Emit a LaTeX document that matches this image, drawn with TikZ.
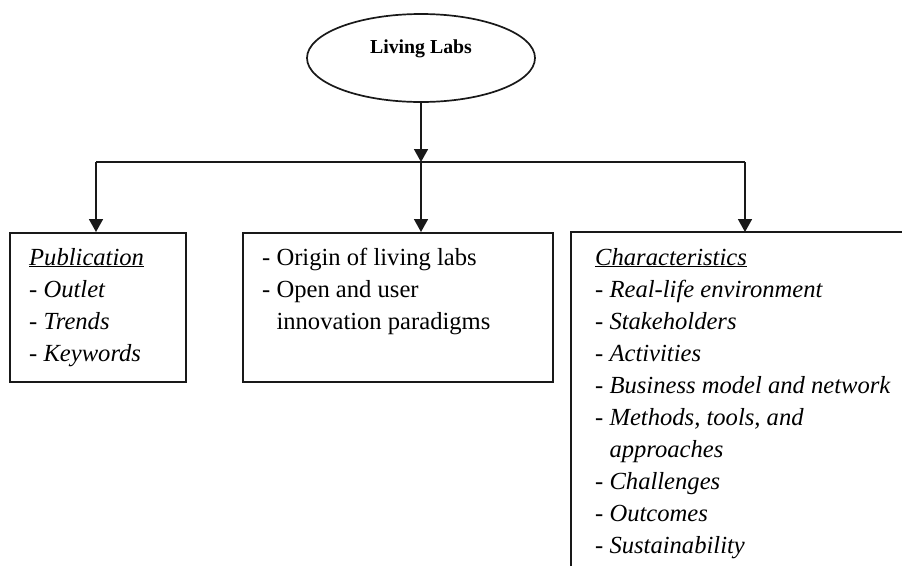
\documentclass[tikz,border=0pt]{standalone}
\usepackage{fontspec}
\setmainfont{Liberation Serif}
\usetikzlibrary{shapes.geometric,arrows.meta}
\tikzset{
  ln/.style={line width=1.7pt, black!90},
  arr/.style={ln, -{Triangle[width=14pt,length=13pt]}},
  oval/.style={ellipse, draw, ln, minimum width=228pt, minimum height=88pt, inner sep=0pt},
  box/.style={draw, ln, rectangle, anchor=north west, inner sep=0pt},
  txt/.style={anchor=base west, inner sep=0pt, font=\fontsize{24.6}{30}\selectfont},
  ttl/.style={inner sep=0pt, font=\fontsize{19.8}{24}\selectfont\bfseries}
}
\begin{document}
\begin{tikzpicture}[x=1pt,y=-1pt]
\useasboundingbox (0,0) rectangle (902,566);
% title
\node[oval] (ll) at (421,58) {};
\node[ttl] (llt) at (421,49) {Living Labs};
% boxes
\node[box, minimum width=176pt, minimum height=149pt] (pub) at (9,232) {};
\node[box, minimum width=310pt, minimum height=149pt] (mid) at (242,232) {};
\coordinate (chr) at (571,232);
\coordinate (chb) at (571,566);
\coordinate (chrr) at (902,232);
\draw[ln] (chb) -- (chr) -- (chrr);
% connectors
\coordinate (j) at (421,162);
\coordinate (jl) at (96,162);
\coordinate (jr) at (745,162);
\draw[arr] (ll.south) -- (j);
\draw[ln] (jl) -- (jr);
\draw[arr] (jl) -- (jl |- pub.north);
\draw[arr] (j) -- (j |- mid.north);
\draw[arr] (jr) -- (jr |- chr);
% left box text
\node[txt] (p0) at (29,265) {\underline{\textit{Publication}}};
\node[txt] (p1) at (29,297) {- \textit{Outlet}};
\node[txt] (p2) at (29,329) {- \textit{Trends}};
\node[txt] (p3) at (29,361) {- \textit{Keywords}};
% middle box text
\node[txt] (m1) at (262,265) {- Origin of living labs};
\node[txt] (m2) at (262,297) {- Open and user};
\node[txt] (m3) at (262,329) {\phantom{- }innovation paradigms};
% right box text
\node[txt] (c0) at (595,265) {\underline{\textit{Characteristics}}};
\node[txt] (c1) at (595,297) {- \textit{Real-life environment}};
\node[txt] (c2) at (595,329) {- \textit{Stakeholders}};
\node[txt] (c3) at (595,361) {- \textit{Activities}};
\node[txt] (c4) at (595,393) {- \textit{Business model and network}};
\node[txt] (c5) at (595,425) {- \textit{Methods, tools, and}};
\node[txt] (c6) at (595,457) {\phantom{- }\textit{approaches}};
\node[txt] (c7) at (595,489) {- \textit{Challenges}};
\node[txt] (c8) at (595,521) {- \textit{Outcomes}};
\node[txt] (c9) at (595,553) {- \textit{Sustainability}};
\end{tikzpicture}
\end{document}
